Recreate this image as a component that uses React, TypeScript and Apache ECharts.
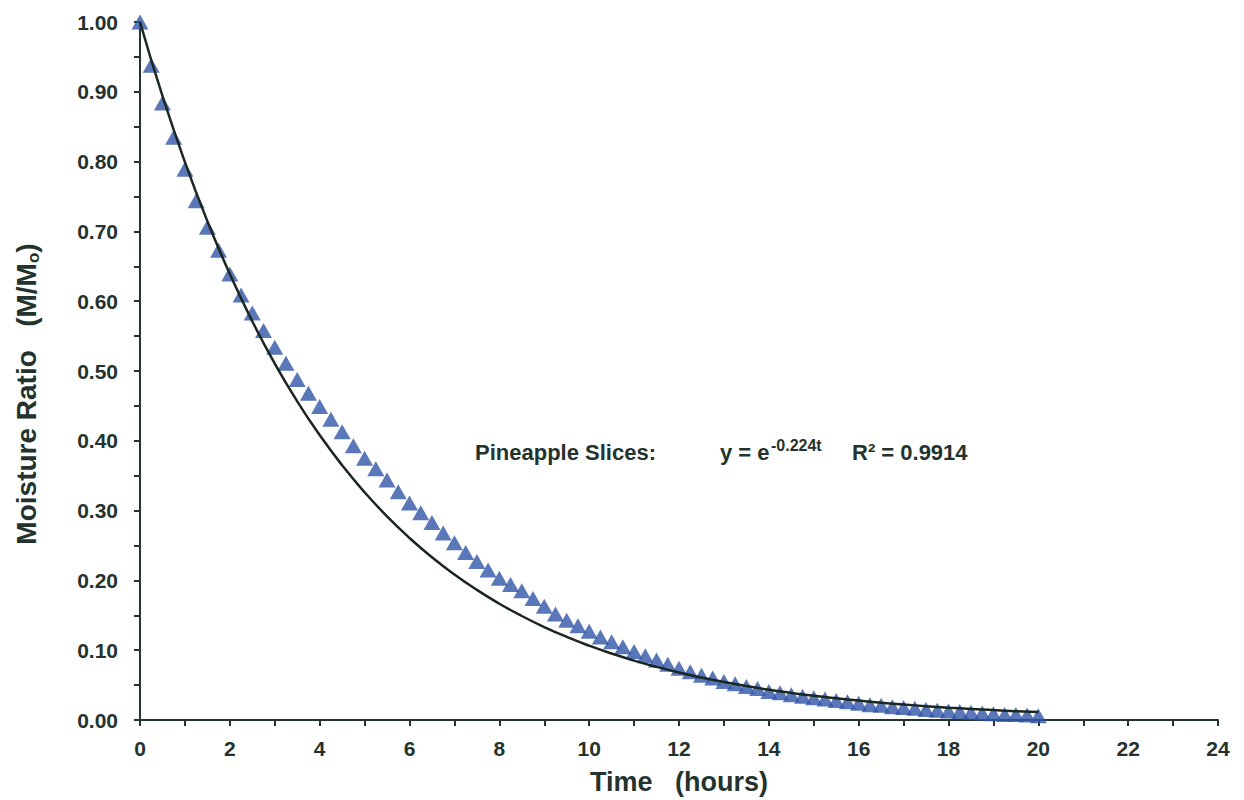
import React, { useEffect, useRef } from "react";
import * as echarts from "echarts";

const times = [
  0, 0.25, 0.5, 0.75, 1, 1.25, 1.5, 1.75, 2, 2.25, 2.5, 2.75, 3, 3.25, 3.5, 3.75,
  4, 4.25, 4.5, 4.75, 5, 5.25, 5.5, 5.75, 6, 6.25, 6.5, 6.75, 7, 7.25, 7.5, 7.75,
  8, 8.25, 8.5, 8.75, 9, 9.25, 9.5, 9.75, 10, 10.25, 10.5, 10.75, 11, 11.25, 11.5, 11.75,
  12, 12.25, 12.5, 12.75, 13, 13.25, 13.5, 13.75, 14, 14.25, 14.5, 14.75, 15, 15.25, 15.5, 15.75,
  16, 16.25, 16.5, 16.75, 17, 17.25, 17.5, 17.75, 18, 18.25, 18.5, 18.75, 19, 19.25, 19.5, 19.75, 20,
];

const moistureRatio = [
  1.0, 0.938, 0.884, 0.835, 0.789, 0.744, 0.706, 0.673, 0.639, 0.609, 0.583, 0.558, 0.534, 0.511, 0.488, 0.468,
  0.449, 0.431, 0.413, 0.393, 0.375, 0.36, 0.344, 0.327, 0.311, 0.297, 0.283, 0.268, 0.254, 0.24, 0.227, 0.215,
  0.203, 0.194, 0.185, 0.174, 0.163, 0.152, 0.143, 0.135, 0.127, 0.119, 0.112, 0.105, 0.098, 0.092, 0.086, 0.08,
  0.074, 0.069, 0.064, 0.06, 0.055, 0.052, 0.048, 0.045, 0.041, 0.039, 0.036, 0.034, 0.032, 0.03, 0.028, 0.026,
  0.024, 0.022, 0.021, 0.019, 0.018, 0.017, 0.015, 0.014, 0.013, 0.012, 0.011, 0.01, 0.009, 0.008, 0.008, 0.007, 0.006,
];

// fitted model y = e^(-0.224t), sampled every 0.5 h
const fitTimes = [
  0, 0.5, 1, 1.5, 2, 2.5, 3, 3.5, 4, 4.5, 5, 5.5, 6, 6.5, 7, 7.5, 8, 8.5, 9, 9.5, 10,
  10.5, 11, 11.5, 12, 12.5, 13, 13.5, 14, 14.5, 15, 15.5, 16, 16.5, 17, 17.5, 18, 18.5, 19, 19.5, 20,
];
const fitValues = [
  1.0, 0.894, 0.7993, 0.7146, 0.6389, 0.5712, 0.5107, 0.4566, 0.4082, 0.3649, 0.3263, 0.2917, 0.2608,
  0.2332, 0.2085, 0.1864, 0.1666, 0.149, 0.1332, 0.1191, 0.1065, 0.0952, 0.0851, 0.0761, 0.068, 0.0608,
  0.0544, 0.0486, 0.0434, 0.0388, 0.0347, 0.0311, 0.0278, 0.0248, 0.0222, 0.0198, 0.0177, 0.0159, 0.0142,
  0.0127, 0.0113,
];

const xTitle = "Time   (hours)";
const yTitleMain = "Moisture Ratio   (M/M";
const yTitleSub = "o";
const annotationLabel = "Pineapple Slices:";
const equationBase = "y = e";
const equationExp = "-0.224t";
const rSquared = "R² = 0.9914";

const FONT = "'Liberation Sans', Arial, sans-serif";
const INK = "#24332d";
const BLUE = "#2f55a8";

export default function App() {
  const ref = useRef<HTMLDivElement>(null);

  useEffect(() => {
    if (!ref.current) return;
    const chart = echarts.init(ref.current, null, { renderer: "svg" });
    const axisCommon = {
      axisLine: { show: true, lineStyle: { color: INK, width: 2 } },
      axisTick: { show: true, length: 6, lineStyle: { color: INK, width: 2 } },
      minorTick: { show: true, splitNumber: 2, length: 6, lineStyle: { color: INK, width: 2 } },
      splitLine: { show: false },
      minorSplitLine: { show: false },
    };
    chart.setOption({
      animation: false,
      backgroundColor: "#ffffff",
      textStyle: { fontFamily: FONT },
      grid: { left: 140, top: 22, right: 26, bottom: 80, containLabel: false },
      xAxis: {
        type: "value",
        min: 0,
        max: 24,
        interval: 2,
        ...axisCommon,
        axisLabel: {
          margin: 18,
          color: INK,
          fontSize: 21,
          fontWeight: "bold",
          fontFamily: FONT,
        },
        name: xTitle,
        nameLocation: "middle",
        nameGap: 48,
        nameTextStyle: { color: INK, fontSize: 27, fontWeight: "bold", fontFamily: FONT },
      },
      yAxis: {
        type: "value",
        min: 0,
        max: 1,
        interval: 0.1,
        ...axisCommon,
        axisLabel: {
          margin: 22,
          color: INK,
          fontSize: 21,
          fontWeight: "bold",
          fontFamily: FONT,
          formatter: (v: number) => v.toFixed(2),
        },
      },
      series: [
        {
          type: "scatter",
          name: "Measured",
          data: times.map((t, i) => [t, moistureRatio[i]]),
          symbol: "triangle",
          symbolSize: [17, 15],
          itemStyle: { color: BLUE },
          z: 2,
        },
        {
          type: "line",
          name: "Fit",
          data: fitTimes.map((t, i) => [t, fitValues[i]]),
          smooth: true,
          showSymbol: false,
          symbol: "none",
          lineStyle: { color: "#1b2621", width: 2.5 },
          z: 3,
        },
      ],
      graphic: [
        {
          type: "text",
          x: 26,
          y: 394,
          rotation: Math.PI / 2,
          style: {
            text: `{t|${yTitleMain}}{s|${yTitleSub}}{t|)}`,
            align: "center",
            verticalAlign: "middle",
            rich: {
              t: { fill: INK, fontSize: 28, fontWeight: "bold", fontFamily: FONT },
              s: { fill: INK, fontSize: 17, fontWeight: "bold", fontFamily: FONT, padding: [14, 0, 0, 0] },
            },
          },
        },
        {
          type: "text",
          left: 475,
          top: 441,
          style: { text: annotationLabel, fill: INK, font: `bold 22px ${FONT}` },
        },
        {
          type: "text",
          left: 720,
          top: 441,
          style: { text: equationBase, fill: INK, font: `bold 22px ${FONT}` },
        },
        {
          type: "text",
          left: 771,
          top: 437,
          style: { text: equationExp, fill: INK, font: `bold 16px ${FONT}` },
        },
        {
          type: "text",
          left: 852,
          top: 441,
          style: { text: rSquared, fill: INK, font: `bold 22px ${FONT}` },
        },
      ],
    });
    return () => chart.dispose();
  }, []);

  return (
    <div
      ref={ref}
      style={{ position: "fixed", left: 0, top: 0, width: 1244, height: 800, background: "#fff" }}
    />
  );
}
